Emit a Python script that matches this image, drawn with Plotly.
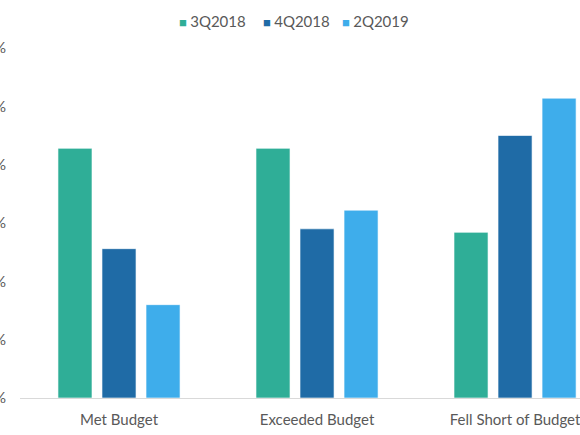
import plotly.graph_objects as go

categories = ["Met Budget", "Exceeded Budget", "Fell Short of Budget"]
series_names = ["3Q2018", "4Q2018", "2Q2019"]
q3_2018 = [42.8, 42.8, 28.4]
q4_2018 = [25.6, 29.0, 45.0]
q2_2019 = [16.0, 32.2, 51.4]
colors = ["#2fae97", "#1f6ba6", "#3eadeb"]
y_ticks = [0, 10, 20, 30, 40, 50, 60]
legend_x = [0.282, 0.432, 0.573]

fig = go.Figure()
for name, vals, col in zip(series_names, [q3_2018, q4_2018, q2_2019], colors):
    fig.add_trace(go.Bar(
        name=name, x=categories, y=vals,
        marker=dict(color=col, line=dict(color="rgba(255,255,255,0.6)", width=1)),
    ))

# compact legend drawn as text, the built-in one spaces items too widely
for name, col, lx in zip(series_names, colors, legend_x):
    fig.add_annotation(
        xref="paper", yref="paper", x=lx, y=1.077, xanchor="left", yanchor="middle",
        text=f"<span style='color:{col};font-size:13px'>■ </span>{name}",
        showarrow=False, font=dict(size=15, color="#595959"), borderpad=0,
    )

fig.update_layout(
    width=580, height=435,
    margin=dict(l=20, r=0, t=48, b=37),
    paper_bgcolor="white", plot_bgcolor="white",
    font=dict(family="Lato", size=14, color="#595959"),
    barmode="group", bargap=0.333, bargroupgap=0.227,
    showlegend=False,
)
fig.update_xaxes(
    range=[-0.5, 2.328], showline=True, linecolor="#d9d9d9", linewidth=1,
    showgrid=False, ticks="", automargin=False, tickfont=dict(size=15),
    ticklabelstandoff=8,
)
fig.update_yaxes(
    range=[0, 60], tickvals=y_ticks, ticktext=[f"{v}%" for v in y_ticks],
    showgrid=False, zeroline=False, ticks="", automargin=False,
    ticklabelstandoff=13, tickfont=dict(size=15),
)

# drop the default body margin so the figure sits at the window corner
fig.write_html("out.html", config={"displayModeBar": False},
               post_script="document.body.style.margin='0';")
